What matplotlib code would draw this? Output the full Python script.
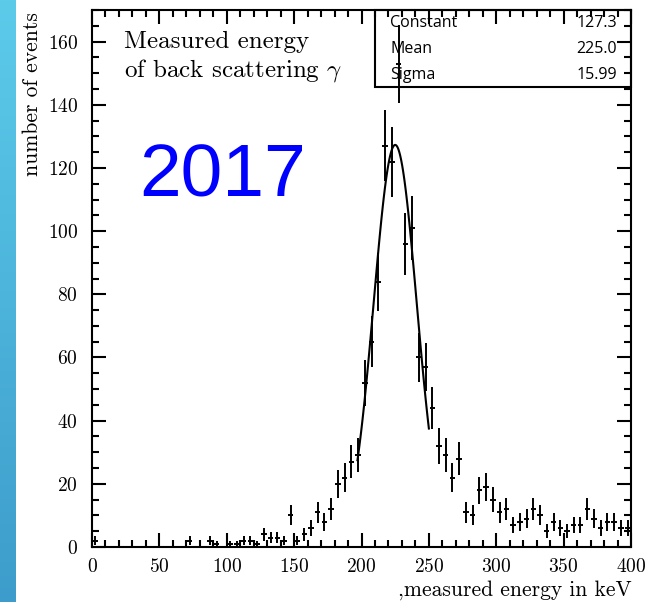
import numpy as np
import matplotlib.pyplot as plt
from matplotlib.colors import LinearSegmentedColormap
from matplotlib.patches import Rectangle
from matplotlib.ticker import MultipleLocator

plt.rcParams['mathtext.fontset'] = 'cm'
plt.rcParams['axes.formatter.use_mathtext'] = True

# histogram: 80 bins of 5 keV from 0 to 400
bin_width = 5.0
counts = [2, 0, 0, 0, 0, 0, 0, 0, 0, 0,
          0, 0, 0, 0, 2, 0, 0, 2, 1, 0,
          1, 1, 2, 2, 1, 4, 3, 3, 2, 10,
          2, 4, 6, 11, 8, 12, 20, 22, 27, 29,
          52, 65, 84, 127, 122, 153, 96, 101, 60, 57,
          44, 32, 29, 22, 28, 11, 10, 18, 19, 15,
          11, 12, 7, 8, 9, 12, 10, 5, 8, 6,
          5, 7, 7, 12, 9, 6, 8, 8, 6, 6]

# gaussian fit parameters (stats box)
fit_names = ["Constant", "Mean", "Sigma"]
fit_values = [127.3, 225.0, 15.99]
fit_labels = ["127.3", "225.0", "15.99"]
fit_range = (197.0, 250.0)

counts = np.array(counts, dtype=float)
centers = bin_width * (np.arange(len(counts)) + 0.5)
errors = np.sqrt(counts)
keep = counts > 0

fig = plt.figure(figsize=(6.6, 6.02), dpi=100)

# blue strip on the left edge
sax = fig.add_axes([0, 0, 16 / 660, 1])
strip = LinearSegmentedColormap.from_list('strip', ['#5ccbea', '#3d9ccb'])
sax.imshow(np.linspace(0, 1, 256).reshape(-1, 1), cmap=strip, aspect='auto')
sax.axis('off')

ax = fig.add_axes([92 / 660, 1 - 547 / 602, 539 / 660, 537 / 602])

ax.errorbar(centers[keep], counts[keep], yerr=errors[keep], xerr=2.0,
            fmt='none', ecolor='black', elinewidth=1.4, capsize=0)

const, mean, sigma = fit_values
xf = np.linspace(fit_range[0], fit_range[1], 100)
ax.plot(xf, const * np.exp(-0.5 * ((xf - mean) / sigma) ** 2), color='black', lw=1.5)

ax.set_xlim(0, 400)
ax.set_ylim(0, 170)
ax.xaxis.set_major_locator(MultipleLocator(50))
ax.xaxis.set_minor_locator(MultipleLocator(10))
ax.yaxis.set_major_locator(MultipleLocator(20))
ax.yaxis.set_minor_locator(MultipleLocator(5))
ax.tick_params(which='both', direction='in', top=True, right=True, width=1.5)
ax.tick_params(which='major', length=10, labelsize=14)
ax.tick_params(which='minor', length=5)
ax.tick_params(axis='x', pad=8)
ax.tick_params(axis='y', pad=10)
for lab in ax.get_xticklabels() + ax.get_yticklabels():
    lab.set_fontfamily('cmr10')
for s in ax.spines.values():
    s.set_linewidth(1.5)

ax.set_ylabel('number of events', fontfamily='cmr10', fontsize=15.5, loc='top')
ax.yaxis.set_label_coords(-0.093, 0.996)
ax.set_xlabel(',measured energy in keV', fontfamily='cmr10', fontsize=15.5, loc='right')
ax.xaxis.set_label_coords(1.002, -0.062)

ax.text(0.059, 0.9287, 'Measured energy', fontfamily='cmr10', fontsize=18,
        transform=ax.transAxes, va='baseline')
ax.text(0.059, 0.8758, r'of back scattering $\gamma$', fontfamily='cmr10', fontsize=18,
        transform=ax.transAxes, va='baseline')

ax.text(0.088, 0.6518, '2017', fontfamily='Liberation Sans', fontsize=54,
        color='#0000ff', transform=ax.transAxes, va='baseline')

# stats box
ax.add_patch(Rectangle((0.525, 0.8566), 0.475, 0.1434, transform=ax.transAxes,
                       fill=False, edgecolor='black', lw=1.5, clip_on=False))
rows_y = [0.9758, 0.9274, 0.8790]
for name, val, yy in zip(fit_names, fit_labels, rows_y):
    ax.text(0.553, yy, name, fontfamily='Open Sans', fontsize=11.5,
            transform=ax.transAxes, va='center')
    ax.text(0.974, yy, val, fontfamily='Open Sans', fontsize=11.5,
            transform=ax.transAxes, va='center', ha='right')

fig.savefig('out.png', dpi=100)
